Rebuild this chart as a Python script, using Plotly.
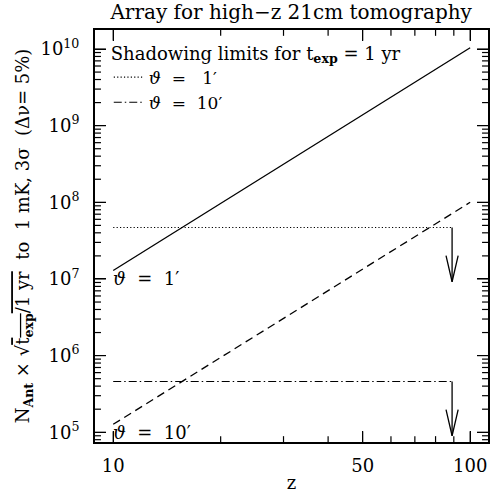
import numpy as np
import plotly.graph_objects as go

# ---- data ----
z_vals = [10, 15, 20, 30, 40, 50, 60, 70, 80, 90, 100]
n_ant_1arcmin = [1.29e7, 4.2e7, 9.6e7, 3.1e8, 7.2e8, 1.38e9, 2.35e9, 3.67e9, 5.4e9, 7.6e9, 1.04e10]
n_ant_10arcmin = [1.27e5, 4.1e5, 9.5e5, 3.05e6, 7.1e6, 1.36e7, 2.3e7, 3.6e7, 5.3e7, 7.4e7, 1.0e8]
z_limit = [10, 89]
shadow_limit_1 = [4.7e7, 4.7e7]
shadow_limit_10 = [4.6e5, 4.6e5]
arrow_tip_1 = 9.2e6
arrow_tip_10 = 9.0e4
x_ticks = [10, 50, 100]
x_ticklabels = ["10", "50", "100"]
y_ticks = [1e5, 1e6, 1e7, 1e8, 1e9, 1e10]
y_ticklabels = ["10<sup>5</sup>", "10<sup>6</sup>", "10<sup>7</sup>", "10<sup>8</sup>",
                "10<sup>9</sup>", "10<sup>10</sup>"]
x_minor = [20, 30, 40, 60, 70, 80, 90]
y_minor = [m * 10 ** d for d in range(4, 11) for m in range(2, 10)]

FONT = "DejaVu Serif"
LW = 1.3
HEAD_LEN_DEC = 0.34      # arrowhead length in decades (y)
HEAD_HALF_DEC = 0.017    # arrowhead half-width in decades (x)
XR = [0.949, 2.050]
YR = [4.873, 10.248]
W, H = 502, 502
ML, MR, MT, MB = 95, 12, 30, 49
PLOT_W = W - ML - MR
PLOT_H = H - MT - MB
MAJOR_LEN = 11
MINOR_LEN = 6

fig = go.Figure()

fig.add_trace(go.Scatter(x=z_vals, y=n_ant_1arcmin, mode="lines",
                         line=dict(color="black", width=LW), showlegend=False))
fig.add_trace(go.Scatter(x=z_vals, y=n_ant_10arcmin, mode="lines",
                         line=dict(color="black", width=LW, dash="8px,5px"), showlegend=False))
fig.add_trace(go.Scatter(x=z_limit, y=shadow_limit_1, mode="lines",
                         line=dict(color="black", width=1.1, dash="1.2px,2.2px"),
                         name="<i>ϑ</i>  =   1′"))
fig.add_trace(go.Scatter(x=z_limit, y=shadow_limit_10, mode="lines",
                         line=dict(color="black", width=1.1, dash="8px,3px,1.5px,3px"),
                         name="<i>ϑ</i>  =  10′"))


def add_arrow(zend, ystart, ytip):
    fig.add_trace(go.Scatter(x=[zend, zend], y=[ystart, ytip], mode="lines",
                             line=dict(color="black", width=LW), showlegend=False))
    base = ytip * 10 ** HEAD_LEN_DEC
    fig.add_trace(go.Scatter(x=[zend * 10 ** (-HEAD_HALF_DEC), zend, zend * 10 ** HEAD_HALF_DEC],
                             y=[base, ytip, base], mode="lines",
                             line=dict(color="black", width=LW), showlegend=False))


add_arrow(z_limit[-1], shadow_limit_1[-1], arrow_tip_1)
add_arrow(z_limit[-1], shadow_limit_10[-1], arrow_tip_10)


# inside tick marks on all four frame edges, as short line segments in axis units
def add_edge_ticks(vals, axis, length):
    xs, ys = [], []
    if axis == "x":
        d = length / PLOT_H * (YR[1] - YR[0])
        for v in vals:
            xs += [v, v, None, v, v, None]
            ys += [10 ** YR[0], 10 ** (YR[0] + d), None, 10 ** YR[1], 10 ** (YR[1] - d), None]
    else:
        d = length / PLOT_W * (XR[1] - XR[0])
        for v in vals:
            xs += [10 ** XR[0], 10 ** (XR[0] + d), None, 10 ** XR[1], 10 ** (XR[1] - d), None]
            ys += [v, v, None, v, v, None]
    fig.add_trace(go.Scatter(x=xs, y=ys, mode="lines", cliponaxis=False,
                             line=dict(color="black", width=1.2),
                             showlegend=False, hoverinfo="skip"))


add_edge_ticks(x_ticks, "x", MAJOR_LEN)
add_edge_ticks(x_minor, "x", MINOR_LEN)
add_edge_ticks(y_ticks, "y", MAJOR_LEN)
add_edge_ticks(y_minor, "y", MINOR_LEN)

fig.add_annotation(x=np.log10(z_vals[0]), y=np.log10(y_ticks[2]), text="<i>ϑ</i>  =  1′",
                   showarrow=False, xanchor="left", yanchor="middle", xshift=-2,
                   font=dict(family=FONT, size=18, color="black"))
fig.add_annotation(x=np.log10(z_vals[0]), y=np.log10(y_ticks[0]), text="<i>ϑ</i>  =  10′",
                   showarrow=False, xanchor="left", yanchor="middle", xshift=-2,
                   font=dict(family=FONT, size=18, color="black"))

tickfont = dict(family=FONT, size=18, color="black")

fig.update_layout(
    xaxis=dict(type="log", range=XR, tickmode="array", tickvals=x_ticks, ticktext=x_ticklabels,
               ticks="inside", ticklen=MAJOR_LEN, tickcolor="black", showline=True,
               mirror="allticks", linecolor="black", linewidth=2, showgrid=False,
               zeroline=False, tickfont=tickfont, ticklabelstandoff=6,
               title=dict(text="z", font=dict(family=FONT, size=18, color="black"), standoff=2)),
    yaxis=dict(type="log", range=YR, tickmode="array", tickvals=y_ticks, ticktext=y_ticklabels,
               ticks="inside", ticklen=MAJOR_LEN, tickcolor="black", showline=True,
               mirror="allticks", linecolor="black", linewidth=2, showgrid=False,
               zeroline=False, tickfont=tickfont, ticklabelstandoff=10,
               title=dict(text="N<sub><b>Ant</b></sub> × √<span style='text-decoration:overline'>t<sub><b>exp</b></sub>/1 yr</span>  to  1 mK, 3σ  (Δν= 5%)",
                          font=dict(family=FONT, size=18, color="black"), standoff=6)),
    width=W, height=H,
    margin=dict(l=ML, r=MR, t=MT, b=MB),
    plot_bgcolor="white",
    title=dict(text="Array for high−z 21cm tomography", x=0.58, xanchor="center",
               y=0.99, yanchor="top", font=dict(family=FONT, size=20, color="black")),
    legend=dict(x=0.035, y=0.985, xanchor="left", yanchor="top", bgcolor="rgba(0,0,0,0)",
                font=dict(family=FONT, size=17, color="black"), itemwidth=30, tracegroupgap=0,
                title=dict(text="Shadowing limits for t<sub><b>exp</b></sub> = 1 yr",
                           font=dict(family=FONT, size=18, color="black"))),
)

fig.write_html("out.html")
